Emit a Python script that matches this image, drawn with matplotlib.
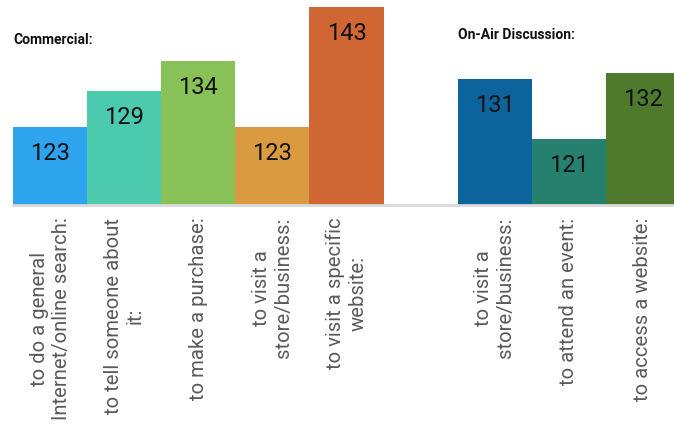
import matplotlib.pyplot as plt

labels = [
    "to do a general\nInternet/online search:",
    "to tell someone about\nit:",
    "to make a purchase:",
    "to visit a\nstore/business:",
    "to visit a specific\nwebsite:",
    "to visit a\nstore/business:",
    "to attend an event:",
    "to access a website:",
]
values = [123, 129, 134, 123, 143, 131, 121, 132]
slots = [0, 1, 2, 3, 4, 6, 7, 8]
colors = ['#2EA3EE', '#4CCAAE', '#88C158', '#D99A40', '#CF6634',
          '#0D649C', '#25806D', '#4F7A2E']
group_titles = ['Commercial:', 'On-Air Discussion:']

W, H = 674, 428
fig = plt.figure(figsize=(W / 100, H / 100), dpi=100)
ax = fig.add_axes([13 / W, (H - 205) / H, 1 - 13 / W, 205 / H])

bars = ax.bar(slots, values, width=1.0, color=colors, bottom=0)
for s, v in zip(slots, values):
    ax.annotate(str(v), (s, v), xytext=(0, -18.7), textcoords='offset points',
                ha='center', va='center', fontsize=17, family='Roboto', color='#111111')

ax.set_ylim(110, 144.2)
ax.set_xlim(-0.5, 8.42)
ax.set_xticks(slots)
ax.set_xticklabels(labels, rotation=90, ha='center', va='top', multialignment='center',
                   fontsize=14.6, family='Roboto', color='#5a5a5a')
ax.tick_params(axis='x', length=0, pad=9)
ax.set_yticks([])
for side in ['top', 'right', 'left']:
    ax.spines[side].set_visible(False)
ax.spines['bottom'].set_color('#d9d9d9')
ax.spines['bottom'].set_linewidth(2)

fig.text(13 / W, 1 - 40 / H, group_titles[0], fontsize=10, fontweight='bold',
         family='Roboto', va='center', ha='left', color='#111111')
fig.text(458 / W, 1 - 35 / H, group_titles[1], fontsize=10, fontweight='bold',
         family='Roboto', va='center', ha='left', color='#111111')

fig.savefig('out.png', dpi=100)
